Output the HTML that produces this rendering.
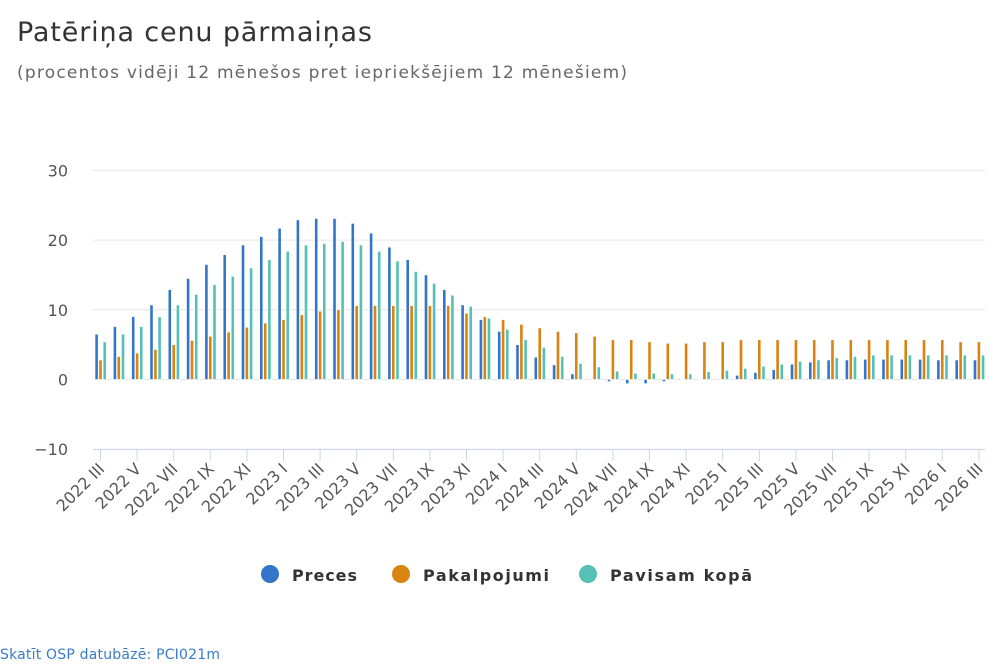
<!DOCTYPE html>
<html><head><meta charset="utf-8"><style>
body{margin:0;background:#fff;width:1000px;height:667px;overflow:hidden;font-family:"Liberation Sans","DejaVu Sans",sans-serif}
</style></head><body>
<svg id="s" width="1000" height="667" xmlns="http://www.w3.org/2000/svg" font-family="DejaVu Sans, Liberation Sans, sans-serif">
<text x="17" y="41" font-size="27" fill="#333" textLength="355" lengthAdjust="spacing">Patēriņa cenu pārmaiņas</text>
<text x="17" y="78" font-size="17" fill="#666" textLength="610" lengthAdjust="spacing">(procentos vidēji 12 mēnešos pret iepriekšējiem 12 mēnešiem)</text>
<text x="0" y="659" font-size="14" fill="#3a7cc8" textLength="220" lengthAdjust="spacing">Skatīt OSP datubāzē: PCI021m</text>
<g font-size="16" fill="#333" font-weight="bold">
<circle cx="270" cy="574" r="9" fill="#3375c8"/><text x="292" y="581" textLength="65">Preces</text>
<circle cx="401" cy="574" r="9" fill="#d98310"/><text x="423" y="581" textLength="126">Pakalpojumi</text>
<circle cx="588" cy="574" r="9" fill="#55c0b5"/><text x="610" y="581" textLength="142">Pavisam kopā</text>
</g>
<g id="g"></g>
</svg>
<script>
var B=[6.5,7.6,9,10.7,12.9,14.5,16.5,17.9,19.3,20.5,21.7,22.9,23.1,23.1,22.4,21,19,17.2,15,12.9,10.7,8.6,6.9,5,3.2,2.1,0.8,0.1,-0.3,-0.6,-0.6,-0.3,0,0,0.1,0.6,1,1.4,2.2,2.5,2.8,2.8,2.9,2.9,2.9,2.9,2.8,2.8,2.8];
var O=[2.8,3.3,3.8,4.3,5,5.6,6.2,6.8,7.5,8.1,8.6,9.3,9.8,10,10.6,10.6,10.6,10.6,10.6,10.6,9.5,9,8.6,7.9,7.4,6.9,6.7,6.2,5.7,5.7,5.4,5.2,5.2,5.4,5.4,5.7,5.7,5.7,5.7,5.7,5.7,5.7,5.7,5.7,5.7,5.7,5.7,5.4,5.4];
var T=[5.4,6.5,7.6,9,10.7,12.2,13.6,14.8,16,17.2,18.4,19.3,19.5,19.8,19.3,18.4,17,15.5,13.8,12.1,10.5,8.8,7.2,5.7,4.6,3.3,2.3,1.8,1.2,0.9,0.9,0.8,0.8,1.1,1.3,1.6,1.9,2.2,2.6,2.8,3.1,3.3,3.5,3.5,3.5,3.5,3.5,3.5,3.5];
var h='',y0=379.5,k=6.97;
[30,20,10,0,-10].forEach(function(v){var y=y0-v*k;h+='<line x1="93" x2="985" y1="'+y+'" y2="'+y+'" stroke="#e6e6e6" stroke-width="1"/>';h+='<text x="68" y="'+(y+6)+'" font-size="16" fill="#555" text-anchor="end">'+(v<0?'−10':v)+'</text>';});
h+='<line x1="93" x2="985" y1="449.5" y2="449.5" stroke="#ccd6eb"/>';
var R=['I','II','III','IV','V','VI','VII','VIII','IX','X','XI','XII'];
function bar(x,v,c){var y=v>=0?y0-v*k:y0,hh=Math.abs(v)*k;h+='<rect x="'+x+'" y="'+y+'" width="3.2" height="'+Math.max(hh,0.5)+'" fill="'+c+'" stroke="#fff" stroke-width="0.6"/>';}
for(var i=0;i<49;i++){var c=100.5+18.3*i;bar(c-5.5,B[i],'#3375c8');bar(c-1.6,O[i],'#d98310');bar(c+2.6,T[i],'#55c0b5');
if(i%2==0){h+='<line x1="'+c+'" x2="'+c+'" y1="449.5" y2="461" stroke="#ccd6eb"/>';var m=(i+2)%12,yr=2022+Math.floor((i+2)/12);
h+='<text transform="translate('+(c+5)+',470) rotate(-45)" font-size="16" fill="#555" text-anchor="end">'+yr+' '+R[m]+'</text>';}}
document.getElementById('g').innerHTML=h;
</script>
</body></html>
